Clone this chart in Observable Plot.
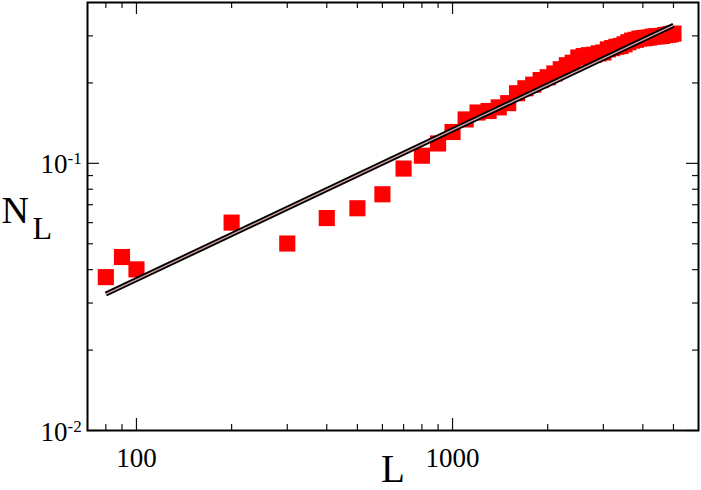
<!DOCTYPE html>
<html><head><meta charset="utf-8">
<script src="https://cdn.jsdelivr.net/npm/d3@7"></script>
<script src="https://cdn.jsdelivr.net/npm/@observablehq/plot@0.6"></script>
<style>
html,body{margin:0;padding:0;background:#fff}
#chart svg{display:block}
#chart svg, #chart svg text{font-family:"Liberation Serif","Times New Roman",Times,serif !important}
</style>
</head><body><div id="chart"></div>
<script>
// ---- data ----
const sizeL = [80, 90, 100, 200, 300, 400, 500, 600, 700, 800, 900,
  1000, 1100, 1200, 1300, 1400, 1500, 1600, 1700, 1800, 1900,
  2000, 2100, 2200, 2300, 2400, 2500, 2600, 2700, 2800, 2900,
  3000, 3100, 3200, 3300, 3400, 3500, 3600, 3700, 3800, 3900,
  4000, 4100, 4200, 4300, 4400, 4500, 4600, 4700, 4800, 4900, 5000];
const valueN = [0.0375, 0.0446, 0.0401, 0.0600, 0.0501, 0.0624, 0.0679, 0.0766, 0.0956, 0.1068, 0.1187,
  0.131, 0.146, 0.155, 0.157, 0.162, 0.168, 0.183, 0.191, 0.197, 0.205,
  0.210, 0.217, 0.225, 0.233, 0.238, 0.249, 0.252, 0.254, 0.255, 0.258,
  0.260, 0.267, 0.270, 0.273, 0.275, 0.279, 0.284, 0.288, 0.290, 0.293,
  0.294, 0.295, 0.296, 0.298, 0.299, 0.299, 0.300, 0.302, 0.303, 0.304, 0.306];
const fitL = [80, 5000];
const fitN = [0.0324, 0.3286];

const xMajorTicks = [100, 1000];
const xTickLabels = ["100", "1000"];
const xMinorTicks = [80, 90, 200, 300, 400, 500, 600, 700, 800, 900, 2000, 3000, 4000, 5000];
const yMajorTicks = [0.01, 0.1];
const yTickBase = ["10", "10"];
const yTickExp = ["-2", "-1"];
const yMinorTicks = [0.02, 0.03, 0.04, 0.05, 0.06, 0.07, 0.08, 0.09, 0.2, 0.3];
const xTitle = "L";
const yTitle = "N";
const yTitleSub = "L";

// ---- build ----
const points = sizeL.map((L, i) => ({L, N: valueN[i]}));
const fit = fitL.map((L, i) => ({L, N: fitN[i]}));

const W = 701, H = 490, mL = 87, mT = 2, mR = 3, mB = 60;
const innerW = W - mL - mR, innerH = H - mT - mB;
const major = 12, minor = 6;
const tk = {stroke: "#111", strokeWidth: 1.2};

const chart = Plot.plot({
  width: W, height: H,
  marginLeft: mL, marginTop: mT, marginRight: mR, marginBottom: mB,
  x: {type: "log", domain: [70, 6000], axis: null},
  y: {type: "log", domain: [0.01, 0.4], axis: null},
  style: {fontFamily: "Liberation Serif", background: "white", color: "black"},
  marks: [
    Plot.dot(points, {x: "L", y: "N", symbol: "square", r: 9.1, fill: "#ff0000", stroke: "none"}),
    Plot.line(fit, {x: "L", y: "N", stroke: "black", strokeWidth: 5, strokeLinecap: "butt"}),
    Plot.line(fit, {x: "L", y: "N", stroke: "#d4a3a3", strokeWidth: 1.3, strokeLinecap: "butt"}),
    // ticks (inward, mirrored)
    Plot.tickX(xMajorTicks, {x: d => d, insetTop: innerH - major, ...tk}),
    Plot.tickX(xMajorTicks, {x: d => d, insetBottom: innerH - major, ...tk}),
    Plot.tickX(xMinorTicks, {x: d => d, insetTop: innerH - minor, ...tk}),
    Plot.tickX(xMinorTicks, {x: d => d, insetBottom: innerH - minor, ...tk}),
    Plot.tickY(yMajorTicks, {y: d => d, insetRight: innerW - major, ...tk}),
    Plot.tickY(yMajorTicks, {y: d => d, insetLeft: innerW - major, ...tk}),
    Plot.tickY(yMinorTicks, {y: d => d, insetRight: innerW - minor, ...tk}),
    Plot.tickY(yMinorTicks, {y: d => d, insetLeft: innerW - minor, ...tk}),
    Plot.frame({stroke: "black", strokeWidth: 2}),
    // tick labels
    Plot.text(xMajorTicks, {x: d => d, text: (d, i) => xTickLabels[i], frameAnchor: "bottom",
      lineAnchor: "bottom", dy: 36, fontSize: 27, fill: "black"}),
    Plot.text(yMajorTicks, {y: d => d, text: (d, i) => yTickBase[i], frameAnchor: "left",
      textAnchor: "end", lineAnchor: "bottom", dx: -20, dy: 10, fontSize: 27, fill: "black"}),
    Plot.text(yMajorTicks, {y: d => d, text: (d, i) => yTickExp[i], frameAnchor: "left",
      textAnchor: "start", lineAnchor: "bottom", dx: -20, dy: 1, fontSize: 17, fill: "black"}),
    // axis titles
    Plot.text([xTitle], {text: d => d, frameAnchor: "bottom", lineAnchor: "bottom", dy: 51, fontSize: 39, fill: "black"}),
    Plot.text([yTitle], {text: d => d, frameAnchor: "left", textAnchor: "start", lineAnchor: "bottom",
      dx: -86, dy: 6, fontSize: 38, fill: "black"}),
    Plot.text([yTitleSub], {text: d => d, frameAnchor: "left", textAnchor: "start", lineAnchor: "bottom",
      dx: -55, dy: 22, fontSize: 32, fill: "black"})
  ]
});
document.getElementById("chart").appendChild(chart);
</script>
</body></html>
